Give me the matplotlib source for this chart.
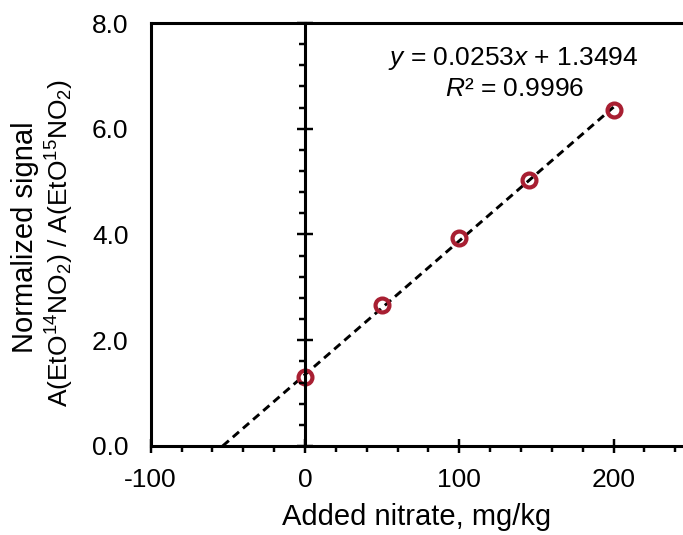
import matplotlib
matplotlib.use("Agg")
import matplotlib.pyplot as plt
from matplotlib.ticker import MultipleLocator, FormatStrFormatter

plt.rcParams['font.family'] = ['Liberation Sans', 'DejaVu Sans']
plt.rcParams['mathtext.fontset'] = 'custom'
plt.rcParams['mathtext.rm'] = 'Liberation Sans'
plt.rcParams['mathtext.it'] = 'Liberation Sans:italic'
plt.rcParams['axes.unicode_minus'] = False

# nitrate standard additions and normalized signal
added = [0, 50, 100, 145, 200]
signal = [1.31, 2.66, 3.93, 5.03, 6.36]

# linear fit reported on the chart
slope = 0.0253
intercept = 1.3494
r2 = 0.9996

x_ticks = [-100, 0, 100, 200]
y_ticks = [0.0, 2.0, 4.0, 6.0, 8.0]

fs = 19
label_fs = 21
spine_w = 2.2
red = '#a81f32'

fig = plt.figure(figsize=(6.83, 5.35), dpi=100)
ax = fig.add_axes([0.2206, 0.1664, 0.7794, 0.7906])
ax.set_xlim(-100, 245)
ax.set_ylim(0, 8)

# fit line from x-intercept up to the last standard
x0 = -intercept / slope
x_fit = [x0, added[-1]]
y_fit = [slope * v + intercept for v in x_fit]
ax.plot(x_fit, y_fit, color='black', lw=2.1, linestyle=(0, (2.8, 1.8)),
        zorder=3, clip_on=False)
ax.plot(added, signal, linestyle='none', marker='o', markersize=10,
        markerfacecolor='none', markeredgecolor=red, markeredgewidth=3.0,
        zorder=4)

for side in ['left', 'bottom', 'top']:
    ax.spines[side].set_linewidth(spine_w)
ax.spines['right'].set_visible(False)

ax.set_xticks(x_ticks)
ax.set_yticks(y_ticks)
ax.xaxis.set_minor_locator(MultipleLocator(20))
ax.yaxis.set_minor_locator(MultipleLocator(0.4))
ax.yaxis.set_major_formatter(FormatStrFormatter('%.1f'))
ax.tick_params(axis='x', which='major', direction='inout', length=10,
               width=spine_w * 0.8, labelsize=fs, pad=11)
ax.tick_params(axis='x', which='minor', direction='out', length=4.3,
               width=spine_w * 0.8)
ax.tick_params(axis='y', which='both', length=0, labelsize=fs, pad=16)

# vertical axis crossing at x = 0, labels stay on the left edge
ax2 = fig.add_axes(ax.get_position(), sharex=ax, sharey=ax)
ax2.patch.set_visible(False)
for side in ['right', 'bottom', 'top']:
    ax2.spines[side].set_visible(False)
ax2.spines['left'].set_position(('data', 0))
ax2.spines['left'].set_linewidth(spine_w)
ax2.xaxis.set_visible(False)
ax2.tick_params(axis='y', which='major', direction='inout', length=11,
                width=spine_w * 0.8, labelleft=False)
ax2.tick_params(axis='y', which='minor', direction='out', length=4,
                width=spine_w * 0.8, labelleft=False)

ax.set_xlabel('Added nitrate, mg/kg', fontsize=label_fs, labelpad=8)

fig.text(0.036, 0.556, 'Normalized signal', rotation=90, fontsize=label_fs,
         ha='center', va='center')
fig.text(0.088, 0.546, r'A(EtO$^{14}$NO$_2$) / A(EtO$^{15}$NO$_2$)',
         rotation=90, fontsize=fs, ha='center', va='center')

ax.text(0.682, 0.915, r'$y$ = %.4f$x$ + %.4f' % (slope, intercept),
        transform=ax.transAxes, fontsize=fs, ha='center', va='center')
ax.text(0.684, 0.843, r'$R$² = %.4f' % r2,
        transform=ax.transAxes, fontsize=fs, ha='center', va='center')

fig.savefig('out.png', dpi=100)
